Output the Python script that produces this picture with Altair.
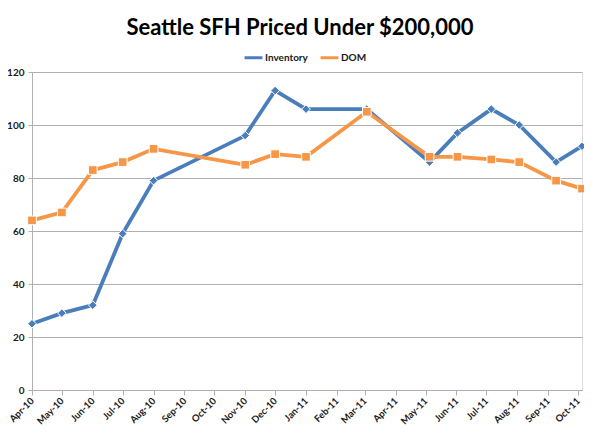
import altair as alt
import pandas as pd

# Data
dates = ["2010-04-01", "2010-05-01", "2010-06-01", "2010-07-01", "2010-08-01",
         "2010-11-01", "2010-12-01", "2011-01-01", "2011-03-03", "2011-05-05",
         "2011-06-02", "2011-07-06", "2011-08-03", "2011-09-09", "2011-10-05"]
inventory = [25, 29, 32, 59, 79, 96, 113, 106, 106, 86, 97, 106, 100, 86, 92]
dom = [64, 67, 83, 86, 91, 85, 89, 88, 105, 88, 88, 87, 86, 79, 76]
series_names = ["Inventory", "DOM"]
series_colors = ["#4A7EBB", "#F79646"]
series_shapes = ["diamond", "square"]
y_ticks = [0, 20, 40, 60, 80, 100, 120]
title_text = "Seattle SFH Priced Under $200,000"

rows = []
for d, v in zip(dates, inventory):
    rows.append({"date": d + "T00:00:00", "series": "Inventory", "value": v})
for d, v in zip(dates, dom):
    rows.append({"date": d + "T00:00:00", "series": "DOM", "value": v})
df = pd.DataFrame(rows)

FONT = "Lato"

x_enc = alt.X(
    "date:T",
    title=None,
    scale=alt.Scale(domain=[alt.DateTime(year=2010, month=4, date=1),
                            alt.DateTime(year=2011, month=10, date=5)], nice=False),
    axis=alt.Axis(
        format="%b-%y",
        tickCount={"interval": "month", "step": 1},
        labelAngle=-45,
        labelAlign="right",
        labelBaseline="middle",
        labelFont=FONT,
        labelFontSize=9.5,
        labelFontWeight="bold",
        labelColor="#1a1a1a",
        labelPadding=4,
        tickSize=5,
        tickColor="#b0b0b0",
        domainColor="#b0b0b0",
        grid=False,
        labelOverlap=False,
        labelFlush=False,
    ),
)
y_enc = alt.Y(
    "value:Q",
    title=None,
    scale=alt.Scale(domain=[0, 120], nice=False),
    axis=alt.Axis(
        values=y_ticks,
        labelFont=FONT,
        labelFontSize=10,
        labelFontWeight="bold",
        labelColor="#1a1a1a",
        labelPadding=4,
        tickSize=4,
        tickColor="#b0b0b0",
        domainColor="#b0b0b0",
        gridColor="#b0b0b0",
        gridWidth=1,
    ),
)
color_enc = alt.Color(
    "series:N",
    scale=alt.Scale(domain=series_names, range=series_colors),
    legend=alt.Legend(
        title=None,
        orient="none",
        direction="horizontal",
        legendX=211,
        legendY=-25,
        symbolType="stroke",
        symbolStrokeWidth=3,
        symbolSize=320,
        labelFont=FONT,
        labelFontSize=10,
        labelFontWeight="bold",
        labelColor="#1a1a1a",
        labelOffset=1,
        columnPadding=6,
    ),
)

base = alt.Chart(df)
layers = []
for name, shape in zip(series_names, series_shapes):
    sub = base.transform_filter(alt.datum.series == name)
    layers.append(sub.mark_line(strokeWidth=3.8).encode(x=x_enc, y=y_enc, color=color_enc))
    layers.append(sub.mark_point(filled=True, shape=shape, size=75, stroke="white",
                                 strokeWidth=1, opacity=1).encode(
        x=x_enc, y=y_enc, color=color_enc))

chart = alt.layer(*layers).properties(
    width=550,
    height=318,
    padding={"left": 24, "top": 64, "right": 2, "bottom": 36},
    autosize=alt.AutoSizeParams(type="none"),
    title=alt.TitleParams(
        text=title_text,
        font=FONT,
        fontSize=22,
        fontWeight="bold",
        color="#000000",
        anchor="middle",
        offset=7,
        dx=-7,
    ),
).configure_view(stroke=None).configure(background="white")

chart.save("out.html", embed_options={"renderer": "svg", "actions": False})
